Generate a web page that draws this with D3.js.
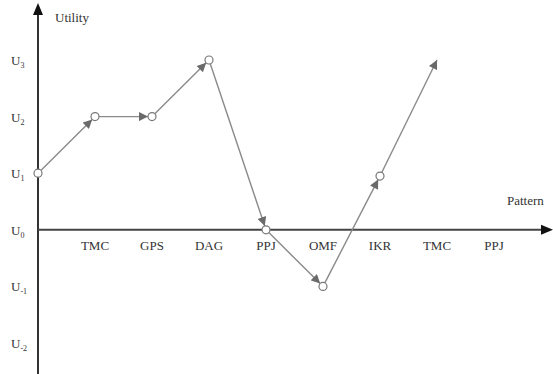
<!DOCTYPE html>
<html><head><meta charset="utf-8">
<script src="https://cdn.jsdelivr.net/npm/d3@7"></script>
<style>body{margin:0;background:#fff}svg{display:block}text{font-family:"Liberation Serif","Times New Roman",serif}</style>
</head><body><svg id="c" width="553" height="374"></svg>
<script>
const categories = ["TMC","GPS","DAG","PPJ","OMF","IKR","TMC","PPJ"];
const yTickValues = [3,2,1,0,-1,-2];
const yTickSubs = ["3","2","1","0","-1","-2"];
const pathIndex = [0,1,2,3,4,5,6,7];
const pathValues = [1,2,2,3,0,-1,0.95,3];
const pathCircles = [true,true,true,true,true,true,true,false];

const svg = d3.select("#c");
const x = d3.scaleLinear().domain([0,8]).range([38,494]);
const y = d3.scaleLinear().domain([-2,3]).range([343,60]);

const defs = svg.append("defs");
defs.append("marker").attr("id","ah").attr("viewBox","0 0 10 10")
  .attr("refX",10).attr("refY",5).attr("markerWidth",10).attr("markerHeight",9)
  .attr("markerUnits","userSpaceOnUse").attr("orient","auto")
  .append("path").attr("d","M0,0L10,5L0,10Z").attr("fill","#6a6a6a");

// axes
const x0 = x(0), y0 = y(0);
svg.append("line").attr("x1",x0).attr("y1",14).attr("x2",x0).attr("y2",374)
  .attr("stroke","#333").attr("stroke-width",2);
svg.append("path").attr("d",`M${x0},3L${x0-5},15L${x0+5},15Z`).attr("fill","#111");
svg.append("line").attr("x1",x0).attr("y1",y0).attr("x2",543).attr("y2",y0)
  .attr("stroke","#444").attr("stroke-width",2);
svg.append("path").attr("d",`M553,${y0}L541,${y0-5}L541,${y0+5}Z`).attr("fill","#111");

// y tick labels
yTickValues.forEach((v,i)=>{
  const t = svg.append("text").attr("x",11).attr("y",y(v)+5)
    .attr("font-size",13).attr("fill","#333");
  t.append("tspan").text("U");
  t.append("tspan").attr("font-size",8).attr("dy",3).text(yTickSubs[i]);
});
// x labels
svg.selectAll("text.xl").data(categories).enter().append("text")
  .attr("class","xl").attr("x",(d,i)=>x(i+1)).attr("y",y0+20)
  .attr("text-anchor","middle").attr("font-size",13)
  .attr("fill","#333").text(d=>d);

svg.append("text").attr("x",55).attr("y",22)
  .attr("font-size",13).attr("fill","#333").text("Utility");
svg.append("text").attr("x",507).attr("y",205)
  .attr("font-size",13).attr("fill","#333").text("Pattern");

// path segments
const r = 4;
for (let i=0;i<pathIndex.length-1;i++){
  const ax=x(pathIndex[i]), ay=y(pathValues[i]);
  const bx=x(pathIndex[i+1]), by=y(pathValues[i+1]);
  const dx=bx-ax, dy=by-ay, L=Math.hypot(dx,dy);
  const sa = pathCircles[i]? r:0, sb = pathCircles[i+1]? r:0;
  svg.append("line")
    .attr("x1",ax+dx/L*sa).attr("y1",ay+dy/L*sa)
    .attr("x2",bx-dx/L*sb).attr("y2",by-dy/L*sb)
    .attr("stroke","#8a8a8a").attr("stroke-width",1.4)
    .attr("marker-end","url(#ah)");
}
svg.selectAll("circle.pt").data(pathIndex.filter((d,i)=>pathCircles[i])).enter()
  .append("circle").attr("class","pt")
  .attr("cx",d=>x(d)).attr("cy",d=>y(pathValues[d])).attr("r",r)
  .attr("fill","#fff").attr("stroke","#777").attr("stroke-width",1.2);
</script></body></html>
